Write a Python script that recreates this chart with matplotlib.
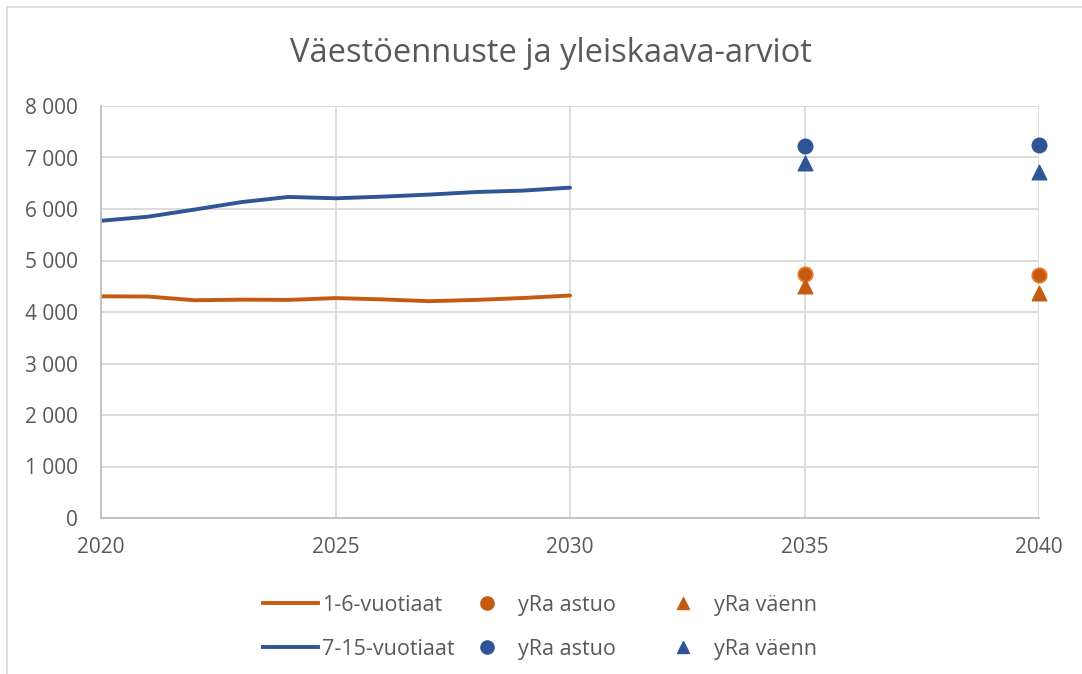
import numpy as np
import matplotlib.pyplot as plt
from matplotlib.lines import Line2D
from matplotlib.legend_handler import HandlerLine2D
from matplotlib.ticker import FuncFormatter

# Population forecast 2020-2030
years = [2020, 2021, 2022, 2023, 2024, 2025, 2026, 2027, 2028, 2029, 2030]
age_1_6 = [4305, 4300, 4228, 4240, 4235, 4270, 4245, 4210, 4235, 4272, 4320]
age_7_15 = [5772, 5850, 5990, 6135, 6234, 6208, 6240, 6280, 6330, 6357, 6415]

# Master-plan estimates
plan_years = [2035, 2040]
astuo_1_6 = [4747, 4715]
vaenn_1_6 = [4507, 4365]
astuo_7_15 = [7228, 7248]
vaenn_7_15 = [6890, 6727]

title = "Väestöennuste ja yleiskaava-arviot"
x_ticks = [2020, 2025, 2030, 2035, 2040]
y_ticks = [0, 1000, 2000, 3000, 4000, 5000, 6000, 7000, 8000]

ORANGE = "#C55A11"
BLUE = "#2F5597"
TEXT = "#595959"
GRID = "#D9D9D9"


class RightMarker(HandlerLine2D):
    """Put the single legend marker near the label, like Excel does"""
    def get_xdata(self, legend, xdescent, ydescent, width, height, fontsize):
        x = -xdescent + width - 1.25 * fontsize
        return np.array([x]), np.array([x])


plt.rcParams['font.family'] = ['Open Sans', 'DejaVu Sans']

fig = plt.figure(figsize=(10.82, 6.74), dpi=100)
ax = fig.add_axes([101 / 1082, 156 / 674, 938 / 1082, 412 / 674])

ax.plot(years, age_1_6, color=ORANGE, lw=2.8, solid_capstyle='round')
ax.plot(years, age_7_15, color=BLUE, lw=2.8, solid_capstyle='round')
ax.scatter(plan_years, astuo_1_6, color=ORANGE, marker='o', s=110, zorder=5,
           edgecolors='#ED7D31', linewidths=1.2, clip_on=False)
ax.scatter(plan_years, vaenn_1_6, color=ORANGE, marker='^', s=110, zorder=5, clip_on=False)
ax.scatter(plan_years, astuo_7_15, color=BLUE, marker='o', s=110, zorder=5, clip_on=False)
ax.scatter(plan_years, vaenn_7_15, color=BLUE, marker='^', s=110, zorder=5, clip_on=False)

ax.set_xlim(2020, 2040)
ax.set_ylim(0, 8000)
ax.set_xticks(x_ticks)
ax.set_yticks(y_ticks)
ax.yaxis.set_major_formatter(FuncFormatter(lambda v, p: f"{int(v):,}".replace(",", " ")))
ax.grid(True, color=GRID, lw=1.3)
ax.set_axisbelow(True)
for side in ['top', 'right']:
    ax.spines[side].set_visible(False)
for side in ['left', 'bottom']:
    ax.spines[side].set_color('#BFBFBF')
    ax.spines[side].set_linewidth(1.3)
ax.tick_params(length=0, labelsize=15, labelcolor=TEXT)
ax.tick_params(axis='x', pad=14)
ax.tick_params(axis='y', pad=16.5)

fig.text(551 / 1082, 0.921, title, ha='center', va='center', fontsize=23.5, color=TEXT)

# legend: three columns placed separately
columns = [
    ([Line2D([], [], color=ORANGE, lw=2.8), Line2D([], [], color=BLUE, lw=2.8)],
     ["1-6-vuotiaat", "7-15-vuotiaat"], 263),
    ([Line2D([], [], color=ORANGE, marker='o', ls='none', ms=9.5),
      Line2D([], [], color=BLUE, marker='o', ls='none', ms=9.5)],
     ["yRa astuo", "yRa astuo"], 459),
    ([Line2D([], [], color=ORANGE, marker='^', ls='none', ms=9),
      Line2D([], [], color=BLUE, marker='^', ls='none', ms=9)],
     ["yRa väenn", "yRa väenn"], 655),
]
for hs, labs, x0 in columns:
    hmap = {} if hs[0].get_linestyle() != 'None' else {h: RightMarker(numpoints=1) for h in hs}
    fig.legend(hs, labs, loc='center left', bbox_to_anchor=(x0 / 1082, 0.069),
               frameon=False, fontsize=15.5, labelcolor=TEXT, handlelength=2.56,
               labelspacing=1.07, handletextpad=0.19, borderpad=0,
               borderaxespad=0, handler_map=hmap)

# outer chart border (left/top visible in crop)
fig.add_artist(Line2D([7 / 1082, 7 / 1082], [0, 1 - 7 / 674], color=GRID, lw=1.2))
fig.add_artist(Line2D([7 / 1082, 1], [1 - 7 / 674, 1 - 7 / 674], color=GRID, lw=1.2))

fig.savefig('out.png', dpi=100)
